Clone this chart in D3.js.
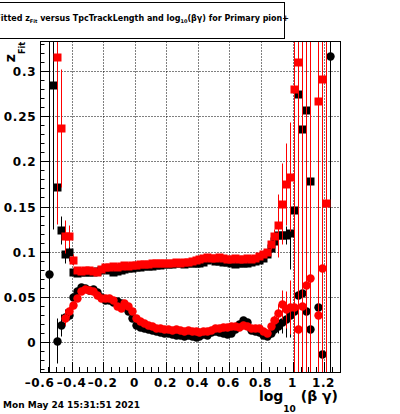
<!DOCTYPE html>
<html lang="en">
<head>
  <meta charset="UTF-8">
  <title>z Fit versus log10(beta gamma)</title>
  <style>
    body { margin: 0; background: #fff; }
    svg { display: block; }
    text { font-family: "DejaVu Sans", sans-serif; font-weight: bold; fill: #000; }
  </style>
</head>
<body>
  <svg id="svg" width="400" height="414"></svg>

  <script src="https://d3js.org/d3.v7.min.js"></script>
  <script>
    // bin centres in log10(beta gamma)
    const xs = [
      -0.54, -0.515, -0.49, -0.465, -0.44, -0.415, -0.39, -0.365,
      -0.34, -0.315, -0.29, -0.265, -0.24, -0.215, -0.19, -0.165,
      -0.14, -0.115, -0.09, -0.065, -0.04, -0.015, 0.01, 0.035,
      0.06, 0.085, 0.11, 0.135, 0.16, 0.185, 0.21, 0.235,
      0.26, 0.285, 0.31, 0.335, 0.36, 0.385, 0.41, 0.435,
      0.46, 0.485, 0.51, 0.535, 0.56, 0.585, 0.61, 0.635,
      0.66, 0.685, 0.71, 0.735, 0.76, 0.785, 0.81, 0.835,
      0.86, 0.885, 0.91, 0.935, 0.96, 0.985, 1.01, 1.035,
      1.06, 1.085, 1.11, 1.135, 1.16, 1.185, 1.21, 1.235
    ]

    // black, upper band (squares)
    const blackHi = [
      null, 0.285, 0.172, 0.124, 0.097, 0.100, 0.078, 0.076,
      0.077, 0.078, 0.077, 0.078, 0.079, 0.080, 0.081, 0.080,
      0.078, 0.079, 0.080, 0.081, 0.082, 0.082, 0.083, 0.083,
      0.084, 0.084, 0.084, 0.085, 0.085, 0.086, 0.086, 0.086,
      0.087, 0.087, 0.086, 0.087, 0.088, 0.087, 0.088, 0.089,
      0.091, 0.092, 0.090, 0.090, 0.089, 0.089, 0.088, 0.086,
      0.087, 0.087, 0.088, 0.089, 0.090, 0.091, 0.093, 0.097,
      0.104, 0.112, 0.119, 0.119, 0.118, 0.121, 0.146, 0.275,
      0.236, 0.257, 0.178, null, null, null, null, null
    ]
    const blackHiErr = [
      0, 0.16, 0.012, 0.015, 0.010, 0.010, 0.004, 0.003,
      0.002, 0.002, 0.002, 0.002, 0.002, 0.002, 0.002, 0.002,
      0.002, 0.002, 0.002, 0.002, 0.002, 0.002, 0.002, 0.002,
      0.002, 0.002, 0.002, 0.002, 0.002, 0.002, 0.002, 0.002,
      0.002, 0.002, 0.002, 0.002, 0.002, 0.002, 0.002, 0.002,
      0.002, 0.002, 0.002, 0.002, 0.002, 0.002, 0.002, 0.002,
      0.002, 0.002, 0.002, 0.002, 0.002, 0.002, 0.003, 0.003,
      0.004, 0.005, 0.006, 0.007, 0.010, 0.040, 0.5, 0.5,
      0.5, 0.5, 0.5, 0, 0, 0, 0, 0
    ]

    // black, lower band (circles)
    const blackLo = [
      0.0753, null, 0.0014, 0.019, 0.028, 0.030, 0.050, 0.057,
      0.061, 0.060, 0.058, 0.059, 0.055, 0.050, 0.047, 0.046,
      0.044, 0.045, 0.043, 0.040, 0.034, 0.027, 0.019, 0.017,
      0.015, 0.014, 0.013, 0.012, 0.011, 0.010, 0.010, 0.009,
      0.008, 0.008, 0.007, 0.008, 0.007, 0.006, 0.007, 0.009,
      0.008, 0.011, 0.012, 0.011, 0.010, 0.009, 0.010, 0.014,
      0.020, 0.024, 0.022, 0.013, 0.012, 0.011, 0.008, 0.007,
      0.010, 0.014, 0.018, 0.022, 0.025, 0.030, 0.034, 0.052,
      0.054, 0.034, 0.014, null, 0.039, -0.013, null, 0.317
    ]
    const blackLoErr = [
      0.5, 0, 0.025, 0.012, 0.008, 0.006, 0.004, 0.003,
      0.002, 0.002, 0.002, 0.002, 0.002, 0.002, 0.002, 0.002,
      0.002, 0.002, 0.002, 0.002, 0.002, 0.002, 0.002, 0.002,
      0.002, 0.002, 0.002, 0.002, 0.002, 0.002, 0.002, 0.002,
      0.002, 0.002, 0.002, 0.002, 0.002, 0.002, 0.002, 0.002,
      0.002, 0.002, 0.002, 0.002, 0.002, 0.002, 0.002, 0.002,
      0.002, 0.002, 0.002, 0.002, 0.002, 0.002, 0.002, 0.003,
      0.004, 0.005, 0.008, 0.012, 0.020, 0.025, 0.040, 0.5,
      0.5, 0.5, 0.5, 0, 0.5, 0.5, 0, 0.5
    ]

    // red, upper band (squares)
    const redHi = [
      null, null, 0.3155, 0.237, 0.117, 0.117, 0.091, 0.080,
      0.079, 0.080, 0.080, 0.079, 0.077, 0.081, 0.083, 0.083,
      0.084, 0.083, 0.084, 0.085, 0.084, 0.085, 0.085, 0.086,
      0.086, 0.086, 0.087, 0.087, 0.087, 0.088, 0.088, 0.088,
      0.089, 0.088, 0.089, 0.089, 0.090, 0.091, 0.092, 0.093,
      0.094, 0.093, 0.093, 0.094, 0.093, 0.092, 0.092, 0.093,
      0.092, 0.092, 0.093, 0.092, 0.093, 0.095, 0.097, 0.100,
      0.108, 0.117, 0.129, 0.153, 0.175, 0.183, 0.280, 0.310,
      null, null, null, null, 0.267, 0.291, 0.154, null
    ]
    const redHiErr = [
      0, 0, 0.185, 0.065, 0.018, 0.012, 0.006, 0.003,
      0.002, 0.002, 0.002, 0.002, 0.002, 0.002, 0.002, 0.002,
      0.002, 0.002, 0.002, 0.002, 0.002, 0.002, 0.002, 0.002,
      0.002, 0.002, 0.002, 0.002, 0.002, 0.002, 0.002, 0.002,
      0.002, 0.002, 0.002, 0.002, 0.002, 0.002, 0.002, 0.002,
      0.002, 0.002, 0.002, 0.002, 0.002, 0.002, 0.002, 0.002,
      0.002, 0.002, 0.002, 0.002, 0.002, 0.002, 0.003, 0.003,
      0.005, 0.008, 0.035, 0.045, 0.045, 0.060, 0.5, 0.5,
      0, 0, 0, 0, 0.5, 0.5, 0.5, 0
    ]

    // red, lower band (circles)
    const redLo = [
      null, null, null, null, 0.027, 0.034, 0.041, 0.049,
      0.057, 0.059, 0.058, 0.057, 0.052, 0.049, 0.049, 0.049,
      0.047, 0.040, 0.038, 0.043, 0.040, 0.034, 0.027, 0.023,
      0.021, 0.019, 0.018, 0.016, 0.016, 0.014, 0.014, 0.013,
      0.014, 0.013, 0.012, 0.013, 0.012, 0.012, 0.011, 0.012,
      0.012, 0.013, 0.015, 0.016, 0.017, 0.017, 0.018, 0.018,
      0.017, 0.019, 0.018, 0.016, 0.015, 0.016, 0.012, 0.010,
      0.018, 0.024, 0.032, 0.042, 0.036, 0.039, 0.039, 0.014,
      0.040, 0.063, 0.071, null, 0.030, 0.082, null, null
    ]
    const redLoErr = [
      0, 0, 0, 0, 0.008, 0.006, 0.004, 0.003,
      0.002, 0.002, 0.002, 0.002, 0.002, 0.002, 0.002, 0.002,
      0.002, 0.002, 0.002, 0.002, 0.002, 0.002, 0.002, 0.002,
      0.002, 0.002, 0.002, 0.002, 0.002, 0.002, 0.002, 0.002,
      0.002, 0.002, 0.002, 0.002, 0.002, 0.002, 0.002, 0.002,
      0.002, 0.002, 0.002, 0.002, 0.002, 0.002, 0.002, 0.002,
      0.002, 0.002, 0.002, 0.002, 0.002, 0.002, 0.002, 0.003,
      0.004, 0.006, 0.010, 0.016, 0.020, 0.030, 0.5, 0.5,
      0.5, 0.5, 0.5, 0, 0.5, 0.5, 0, 0
    ]

    const xTicks = [-0.6, -0.4, -0.2, 0, 0.2, 0.4, 0.6, 0.8, 1, 1.2]
    const xTickLabels = ['\u20130.6', '\u20130.4', '\u20130.2', '0', '0.2', '0.4', '0.6', '0.8', '1', '1.2']
    const yTicks = [0, 0.05, 0.1, 0.15, 0.2, 0.25, 0.3]
    const yTickLabels = ['0', '0.05', '0.1', '0.15', '0.2', '0.25', '0.3']

    const frame = { left: 40, top: 41, right: 340, bottom: 372 }

    const svg = d3.select('#svg')

    // scales
    const xscale = d3.scaleLinear()
      .domain([-0.6, 1.3])
      .range([frame.left, frame.right])
      .interpolate(d3.interpolateRound)
    const yscale = d3.scaleLinear()
      .domain([-0.0332, 0.3332])
      .range([frame.bottom, frame.top])
      .interpolate(d3.interpolateRound)

    const px = v => xscale(v) + 0.5
    const py = v => yscale(v) + 0.5

    // title box
    svg.append('rect')
      .attr('x', -5).attr('y', 2.5)
      .attr('width', 289.5).attr('height', 36)
      .attr('fill', '#fff').attr('stroke', '#000')
    const title = svg.append('text')
      .attr('x', 289).attr('y', 20.5)
      .attr('text-anchor', 'end')
      .style('font-size', '8px')
    title.append('tspan').text('Fitted z')
    title.append('tspan').attr('dy', 2.5).style('font-size', '5px').text('Fit')
    title.append('tspan').attr('dy', -2.5).text(' versus TpcTrackLength and log')
    title.append('tspan').attr('dy', 2.5).style('font-size', '5px').text('10')
    title.append('tspan').attr('dy', -2.5).text('(\u03b2\u03b3) for Primary pion+')

    // grid
    const grid = svg.append('g')
      .attr('stroke', '#000')
      .attr('stroke-dasharray', '1,2')
    grid.selectAll('.gx')
      .data(xTicks.filter(d => d > -0.6))
      .enter().append('line')
      .attr('x1', px).attr('x2', px)
      .attr('y1', frame.top + 0.5).attr('y2', frame.bottom + 0.5)
    grid.selectAll('.gy')
      .data(yTicks)
      .enter().append('line')
      .attr('x1', frame.left + 0.5).attr('x2', frame.right + 0.5)
      .attr('y1', py).attr('y2', py)

    // axes, ticks pointing into the frame
    const xAxis = svg.append('g').attr('transform', `translate(0, ${frame.bottom})`)
    xAxis.call(d3.axisBottom(xscale)
      .tickValues(d3.range(-0.6, 1.3001, 0.05))
      .tickSize(-5).tickFormat(''))
    xAxis.append('g').call(d3.axisBottom(xscale)
      .tickValues(xTicks)
      .tickSize(-10)
      .tickFormat((d, i) => xTickLabels[i]))
    xAxis.selectAll('.domain').remove()
    xAxis.selectAll('text')
      .attr('y', 14.5).attr('dy', 0).attr('dx', -1)
      .style('font-size', '12px')
      .style('letter-spacing', '0.6px')

    const yAxis = svg.append('g').attr('transform', `translate(${frame.left}, 0)`)
    yAxis.call(d3.axisLeft(yscale)
      .tickValues(d3.range(-0.03, 0.3301, 0.01))
      .tickSize(-4.5).tickFormat(''))
    yAxis.append('g').call(d3.axisLeft(yscale)
      .tickValues(yTicks)
      .tickSize(-9)
      .tickFormat((d, i) => yTickLabels[i]))
    yAxis.selectAll('.domain').remove()
    yAxis.selectAll('text')
      .attr('x', -3.5).attr('dy', '0.36em')
      .style('font-size', '12px')
      .style('letter-spacing', '0.8px')
    svg.selectAll('.tick line').attr('stroke', '#000')

    // data, clipped to the frame
    svg.append('clipPath').attr('id', 'clip')
      .append('rect')
      .attr('x', frame.left + 0.5).attr('y', frame.top + 0.5)
      .attr('width', frame.right - frame.left).attr('height', frame.bottom - frame.top)
    const plot = svg.append('g').attr('clip-path', 'url(#clip)')

    const series = [
      { vals: blackHi, errs: blackHiErr, color: '#000', shape: 'square' },
      { vals: blackLo, errs: blackLoErr, color: '#000', shape: 'circle' },
      { vals: redHi, errs: redHiErr, color: '#ff0000', shape: 'square' },
      { vals: redLo, errs: redLoErr, color: '#ff0000', shape: 'circle' }
    ]

    series.forEach(s => {
      const pts = xs.map((x, i) => ({ x: x, y: s.vals[i], e: s.errs[i] }))
        .filter(d => d.y !== null)
      const g = plot.append('g')

      g.selectAll('line')
        .data(pts.filter(d => d.e > 0))
        .enter().append('line')
        .attr('x1', d => px(d.x)).attr('x2', d => px(d.x))
        .attr('y1', d => py(d.y - d.e)).attr('y2', d => py(d.y + d.e))
        .attr('stroke', s.color)

      if (s.shape === 'square') {
        g.selectAll('rect')
          .data(pts)
          .enter().append('rect')
          .attr('x', d => xscale(d.x) - 3.5)
          .attr('y', d => yscale(d.y) - 3.5)
          .attr('width', 8).attr('height', 8)
          .attr('fill', s.color)
      } else {
        g.selectAll('circle')
          .data(pts)
          .enter().append('circle')
          .attr('cx', d => px(d.x))
          .attr('cy', d => py(d.y))
          .attr('r', 4.2)
          .attr('fill', s.color)
      }
    })

    // frame
    svg.append('rect')
      .attr('x', frame.left + 0.5).attr('y', frame.top + 0.5)
      .attr('width', frame.right - frame.left).attr('height', frame.bottom - frame.top)
      .attr('fill', 'none').attr('stroke', '#000')

    // axis titles
    const ytitle = svg.append('text')
      .attr('transform', 'translate(15, 42) rotate(-90)')
      .attr('text-anchor', 'end')
      .style('font-size', '14px')
    ytitle.append('tspan').text('z')
    ytitle.append('tspan').attr('dy', 10).style('font-size', '8px').text('Fit')

    const xtitle = svg.append('text')
      .attr('x', 338).attr('y', 401)
      .attr('text-anchor', 'end')
      .style('font-size', '14px')
    xtitle.append('tspan').text('log')
    xtitle.append('tspan').attr('dy', 11).style('font-size', '9px').text('10')
    xtitle.append('tspan').attr('dy', -11).text(' (\u03b2 \u03b3)')

    // date stamp
    svg.append('text')
      .attr('x', 3).attr('y', 408)
      .style('font-size', '9px')
      .text('Mon May 24 15:31:51 2021')
  </script>
</body>
</html>
